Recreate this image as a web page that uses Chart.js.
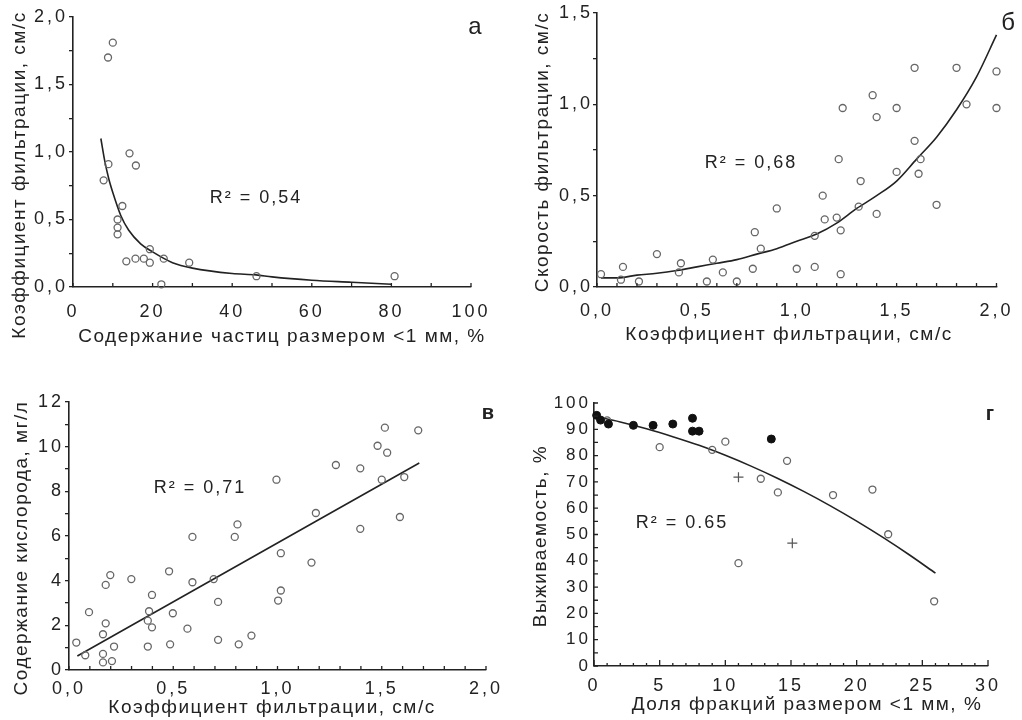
<!DOCTYPE html>
<html>
<head>
<meta charset="utf-8">
<title>Фильтрация и выживаемость</title>
<script src="https://cdn.jsdelivr.net/npm/chart.js@4/dist/chart.umd.min.js"></script>
<style>
  body { margin: 0; background: #fff; }
  #wrap { position: relative; width: 1022px; height: 720px; }
  canvas { position: absolute; }
</style>
</head>
<body>
<div id="wrap">
  <canvas id="chA" width="511" height="360" style="left:0;top:0"></canvas>
  <canvas id="chB" width="511" height="360" style="left:511px;top:0"></canvas>
  <canvas id="chC" width="511" height="360" style="left:0;top:360px"></canvas>
  <canvas id="chD" width="511" height="360" style="left:511px;top:360px"></canvas>
</div>
<script>
// panel а: filtration coefficient vs share of fine particles
const aX = [8.8, 10.0, 7.7, 8.9, 14.2, 15.8, 12.4, 11.2, 11.2, 11.2, 13.4, 15.7, 17.8, 19.3, 19.3, 22.8, 22.2, 29.2, 46.1, 80.8];
const aY = [1.70, 1.81, 0.79, 0.91, 0.99, 0.90, 0.60, 0.50, 0.44, 0.39, 0.19, 0.21, 0.21, 0.28, 0.18, 0.21, 0.02, 0.18, 0.08, 0.08];
const aFitX = [7, 8, 9, 10, 12, 14, 17, 20, 25, 30, 40, 46, 50, 60, 70, 80];
const aFitY = [1.10, 0.93, 0.80, 0.70, 0.53, 0.42, 0.32, 0.26, 0.18, 0.14, 0.10, 0.09, 0.075, 0.05, 0.035, 0.02];

// panel б: filtration speed vs filtration coefficient
const bX = [0.02, 0.12, 0.13, 0.21, 0.30, 0.41, 0.42, 0.55, 0.58, 0.63, 0.70, 0.78, 0.79, 0.82, 0.90, 1.00, 1.09, 1.09, 1.13, 1.14,
            1.20, 1.22, 1.22, 1.21, 1.23, 1.31, 1.32, 1.38, 1.40, 1.40, 1.50, 1.50, 1.59, 1.59, 1.61, 1.62, 1.70, 1.80, 1.85, 2.00, 2.00];
const bY = [0.07, 0.04, 0.11, 0.03, 0.18, 0.08, 0.13, 0.03, 0.15, 0.08, 0.03, 0.10, 0.30, 0.21, 0.43, 0.10, 0.11, 0.28, 0.50, 0.37,
            0.38, 0.31, 0.07, 0.70, 0.98, 0.44, 0.58, 1.05, 0.93, 0.40, 0.98, 0.63, 1.20, 0.80, 0.62, 0.70, 0.45, 1.20, 1.00, 1.18, 0.98];
const bFitX = [0.02, 0.1, 0.2, 0.3, 0.4, 0.5, 0.6, 0.7, 0.8, 0.9, 1.0, 1.1, 1.2, 1.3, 1.4, 1.5, 1.6, 1.7, 1.8, 1.9, 2.0];
const bFitY = [0.05, 0.05, 0.065, 0.075, 0.09, 0.11, 0.13, 0.15, 0.18, 0.21, 0.25, 0.29, 0.35, 0.43, 0.50, 0.58, 0.70, 0.82, 0.97, 1.15, 1.38];

// panel в: oxygen content vs filtration coefficient
const cX = [0.035, 0.078, 0.096, 0.163, 0.163, 0.163, 0.176, 0.176, 0.198, 0.206, 0.216, 0.299, 0.378, 0.378, 0.384, 0.398, 0.398,
            0.48, 0.485, 0.498, 0.568, 0.592, 0.592, 0.694, 0.715, 0.715, 0.795, 0.808, 0.814, 0.875, 0.995, 1.003, 1.016, 1.016,
            1.163, 1.184, 1.28, 1.397, 1.397, 1.48, 1.50, 1.515, 1.526, 1.587, 1.608, 1.675];
const cY = [1.23, 0.66, 2.59, 0.72, 0.34, 1.60, 2.09, 3.81, 4.25, 0.40, 1.05, 4.07, 1.05, 2.21, 2.63, 3.36, 1.91,
            4.42, 1.15, 2.54, 1.85, 5.96, 3.93, 4.07, 3.05, 1.35, 5.96, 6.52, 1.15, 1.54, 8.52, 3.11, 3.56, 5.23,
            4.81, 7.03, 9.18, 9.03, 6.32, 10.04, 8.52, 10.85, 9.73, 6.85, 8.64, 10.73];
const cFitX = [0.04, 1.68];
const cFitY = [0.63, 9.27];

// panel г: survival vs share of fractions < 1 mm
const dFillX = [0.2, 0.5, 1.1, 3.0, 4.5, 6.0, 7.5, 7.5, 8.0, 13.5];
const dFillY = [95.3, 93.5, 92.0, 91.5, 91.5, 92.0, 94.2, 89.3, 89.3, 86.3];
const dOpenX = [1.0, 5.0, 9.0, 10.0, 11.0, 12.7, 14.0, 14.7, 18.2, 21.2, 22.4, 25.9];
const dOpenY = [93.4, 83.2, 82.2, 85.3, 39.1, 71.2, 66.0, 78.0, 65.0, 67.1, 50.1, 24.6];
const dPlusX = [11.0, 15.1];
const dPlusY = [71.8, 46.7];
const dFitX = [0, 2, 4, 6, 8, 10, 12, 14, 16, 18, 20, 22, 24, 26];
const dFitY = [95, 92.8, 90.2, 87.2, 83.9, 80.1, 75.9, 71.3, 66.3, 60.9, 55.1, 48.9, 42.3, 35.3];

const ink = '#222';
const dotGray = '#666';
const fontFam = '"Liberation Sans", Arial, sans-serif';
Chart.defaults.font.family = fontFam;
Chart.defaults.color = ink;

const pts = (xs, ys) => xs.map((x, i) => ({ x, y: ys[i] }));
const onStep = (v, step) => Math.abs(v / step - Math.round(v / step)) < 1e-6;
const comma1 = v => v.toFixed(1).replace('.', ',');
const whole = v => String(Math.round(v));

function openDots(xs, ys) {
  return { data: pts(xs, ys), pointRadius: 3.5, pointBorderWidth: 1.3, pointBorderColor: dotGray,
    pointBackgroundColor: 'rgba(0,0,0,0)', showLine: false, clip: false };
}
function fitLine(xs, ys) {
  return { data: pts(xs, ys), showLine: true, pointRadius: 0, borderColor: ink, borderWidth: 1.6,
    cubicInterpolationMode: 'monotone', clip: false };
}

function axis(o) {
  return {
    type: 'linear', min: o.min, max: o.max,
    afterFit: s => { if (s.isHorizontal()) s.height = o.size; else s.width = o.size; },
    border: { display: true, color: ink, width: 1.6 },
    grid: { display: true, drawOnChartArea: false, drawTicks: !!o.out, tickLength: 4, color: ink, lineWidth: 1.3 },
    ticks: { stepSize: o.step, autoSkip: false, maxRotation: 0, padding: o.pad, color: ink,
      font: { size: o.fs || 18 }, callback: v => onStep(v, o.every) ? o.fmt(v) : '' }
  };
}

// inward tick marks, drawn from the scale's own ticks
function inTicks(cfg) {
  return {
    id: 'inTicks',
    afterDraw(chart) {
      const ctx = chart.ctx;
      ctx.save();
      ctx.strokeStyle = ink; ctx.lineWidth = 1.3;
      ctx.beginPath();
      Object.keys(cfg).forEach(k => {
        const o = cfg[k], s = chart.scales[k];
        s.ticks.forEach(t => {
          const p = s.getPixelForValue(t.value);
          const len = o.major && onStep(t.value, o.major) ? o.majorLen : o.len;
          if (k === 'x') { ctx.moveTo(p, s.top); ctx.lineTo(p, s.top - len); }
          else { ctx.moveTo(s.right, p); ctx.lineTo(s.right + len, p); }
        });
      });
      ctx.stroke();
      ctx.restore();
    }
  };
}

// axis titles, R² notes and panel letters
function labels(items) {
  return {
    id: 'labels',
    beforeDraw(chart) { chart.ctx.letterSpacing = '3px'; },
    afterDraw(chart) {
      const ctx = chart.ctx;
      items.forEach(it => {
        ctx.save();
        ctx.font = (it.bold ? 'bold ' : '') + it.size + 'px ' + fontFam;
        ctx.letterSpacing = (it.sp || 0) + 'px';
        ctx.fillStyle = ink;
        ctx.textAlign = 'center';
        ctx.textBaseline = 'middle';
        ctx.translate(it.x, it.y);
        if (it.rot) ctx.rotate(-Math.PI / 2);
        ctx.fillText(it.text, 0, 0);
        ctx.restore();
      });
    }
  };
}

function panel(id, datasets, pad, xAx, yAx, ticksIn, items) {
  return new Chart(document.getElementById(id), {
    type: 'scatter',
    data: { datasets },
    options: {
      responsive: false, animation: false,
      layout: { padding: { left: 0, bottom: 0, top: pad.top, right: pad.right } },
      plugins: { legend: { display: false }, tooltip: { enabled: false } },
      scales: { x: axis(xAx), y: axis(yAx) }
    },
    plugins: [inTicks(ticksIn), labels(items)]
  });
}

panel('chA', [openDots(aX, aY), fitLine(aFitX, aFitY)], { top: 17, right: 40 },
  { min: 0, max: 100, step: 10, every: 20, fmt: whole, size: 73, pad: 14 },
  { min: 0, max: 2, step: 0.25, every: 0.5, fmt: comma1, size: 73, pad: 1, out: true },
  { x: { len: 4 } },
  [
    { text: 'Коэффициент фильтрации, см/с', x: 20, y: 175, size: 19, sp: 1.5, rot: true },
    { text: 'Содержание частиц размером <1 мм, %', x: 282, y: 337, size: 19, sp: 1.5 },
    { text: 'R² = 0,54', x: 256, y: 198, size: 18, sp: 2 },
    { text: 'а', x: 475, y: 27, size: 24 }
  ]);

panel('chB', [openDots(bX, bY), fitLine(bFitX, bFitY)], { top: 13, right: 22 },
  { min: 0, max: 2, step: 0.1, every: 0.5, fmt: comma1, size: 73, pad: 13 },
  { min: 0, max: 1.5, step: 0.25, every: 0.5, fmt: comma1, size: 86, pad: 0, out: true },
  { x: { len: 4 } },
  [
    { text: 'Скорость фильтрации, см/с', x: 32, y: 152, size: 19, sp: 1.5, rot: true },
    { text: 'Коэффициент фильтрации, см/с', x: 278, y: 335, size: 19, sp: 1.5 },
    { text: 'R² = 0,68', x: 240, y: 163, size: 18, sp: 2 },
    { text: 'б', x: 497, y: 23, size: 24 }
  ]);

panel('chC', [openDots(cX, cY), fitLine(cFitX, cFitY)], { top: 42, right: 25 },
  { min: 0, max: 2, step: 0.1, every: 0.5, fmt: comma1, size: 50, pad: 8 },
  { min: 0, max: 12, step: 1, every: 2, fmt: whole, size: 69, pad: 1, out: true },
  { x: { len: 4 } },
  [
    { text: 'Содержание кислорода, мг/л', x: 22, y: 188, size: 19, sp: 1.5, rot: true },
    { text: 'Коэффициент фильтрации, см/с', x: 272, y: 348, size: 19, sp: 1.5 },
    { text: 'R² = 0,71', x: 200, y: 128, size: 18, sp: 2 },
    { text: 'в', x: 488, y: 53, size: 20, bold: true }
  ]);

panel('chD', [
    { data: pts(dFillX, dFillY), pointRadius: 4, pointBackgroundColor: '#111', pointBorderColor: '#111', showLine: false, clip: false },
    openDots(dOpenX, dOpenY),
    { data: pts(dPlusX, dPlusY), pointStyle: 'cross', pointRadius: 5, pointBorderWidth: 1.2, pointBorderColor: '#555', showLine: false, clip: false },
    fitLine(dFitX, dFitY)
  ], { top: 43, right: 34 },
  { min: 0, max: 30, step: 1, every: 5, fmt: whole, size: 54, pad: 9 },
  { min: 0, max: 100, step: 5, every: 10, fmt: whole, size: 83, pad: 3, fs: 17 },
  { x: { len: 3, major: 5, majorLen: 6 }, y: { len: 4 } },
  [
    { text: 'Выживаемость, %', x: 30, y: 176, size: 19, sp: 1.5, rot: true },
    { text: 'Доля фракций размером <1 мм, %', x: 296, y: 345, size: 19, sp: 1.5 },
    { text: 'R² = 0.65', x: 171, y: 163, size: 18, sp: 2 },
    { text: 'г', x: 479, y: 54, size: 20, bold: true }
  ]);
</script>
</body>
</html>
